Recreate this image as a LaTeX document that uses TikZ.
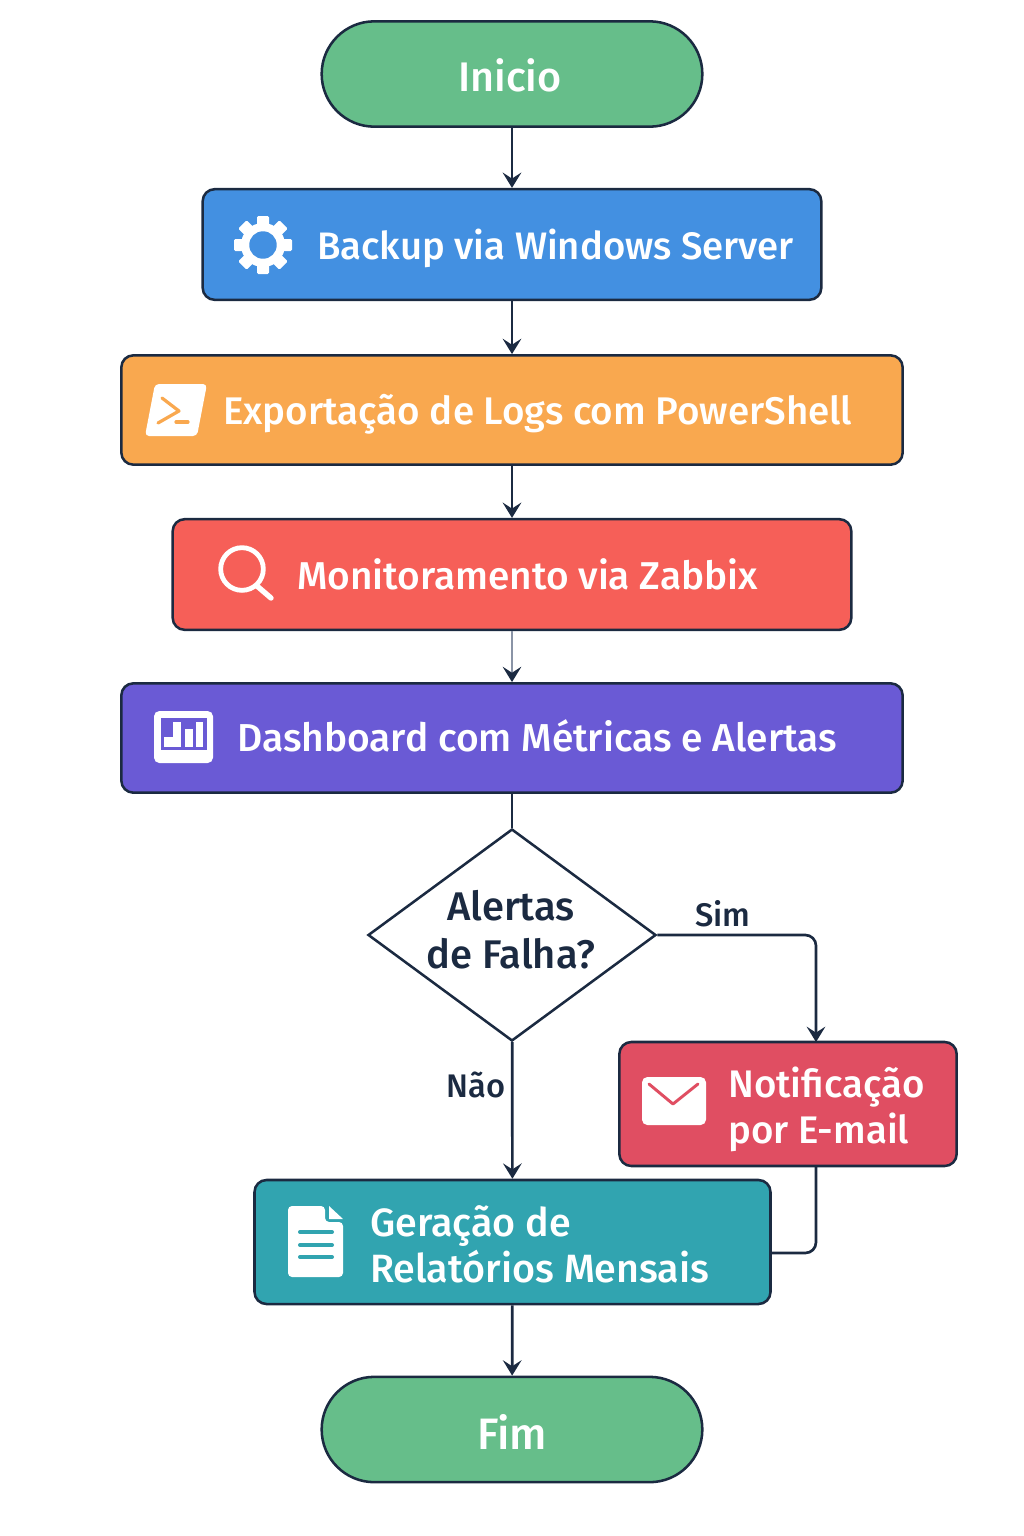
\documentclass[tikz,border=0pt]{standalone}
\usepackage{fontspec}
\setmainfont{Fira Sans Medium}
\usetikzlibrary{shapes.geometric, positioning, arrows.meta}
\definecolor{ink}{HTML}{1B2A41}
\definecolor{termgreen}{HTML}{66BE8A}
\definecolor{backupblue}{HTML}{4390E1}
\definecolor{logorange}{HTML}{F9A84F}
\definecolor{monitorred}{HTML}{F65F58}
\definecolor{dashpurple}{HTML}{6A5AD5}
\definecolor{mailred}{HTML}{E04E62}
\definecolor{reportteal}{HTML}{31A4B0}
\definecolor{paleink}{HTML}{8A94A6}
\tikzset{
    flow/.style = {draw = ink, line width = 2pt},
    arrow/.style = {flow, -{Stealth[length = 11.5pt, width = 14pt, inset = 4.5pt]}},
    box/.style = {draw = ink, line width = 1.9pt, rounded corners = 9pt, inner sep = 0pt},
    terminal/.style = {box, fill = termgreen, rounded corners = 39.5pt, minimum width = 285.5pt, minimum height = 79pt},
    title/.style = {text = white, inner sep = 0pt, font = \fontsize{#1}{34.5}\selectfont},
    title/.default = 29,
    tag/.style = {text = ink, inner sep = 0pt, font = \fontsize{24.5}{30}\selectfont},
    icon/.style = {fill = white, draw = none},
}
\begin{document}
\begin{tikzpicture}[x = 0.75pt, y = -0.75pt]
    \useasboundingbox (0, 0) rectangle (1024, 1536);

    \node[terminal] (start) at (512, 74) {};
    \node[box, fill = backupblue, minimum width = 464pt, minimum height = 83pt] (backup) at (512, 244.5) {};
    \node[box, fill = logorange, minimum width = 586pt, minimum height = 82pt] (logs) at (512, 410) {};
    \node[box, fill = monitorred, minimum width = 509pt, minimum height = 83pt] (monitor) at (512, 574.5) {};
    \node[box, fill = dashpurple, minimum width = 586pt, minimum height = 82pt] (dash) at (512, 738) {};
    \node[diamond, draw = ink, line width = 1.9pt, fill = white, inner sep = 0pt, minimum width = 216pt, minimum height = 159pt] (decision) at (512, 935) {};
    \node[box, fill = mailred, minimum width = 253pt, minimum height = 93pt] (mail) at (788, 1104) {};
    \node[box, fill = reportteal, minimum width = 387pt, minimum height = 93pt] (report) at (512.5, 1242) {};
    \node[terminal] (end) at (512, 1429.5) {};

    \node[title = 31] (start text) at (510, 75.5) {Inicio};
    \node[title = 28.7, anchor = west] (backup text) at (317, 248) {Backup via Windows Server};
    \node[title = 28.9, anchor = west] (logs text) at (223, 414) {Exportação de Logs com PowerShell};
    \node[title = 29.1, anchor = west] (monitor text) at (297, 574) {Monitoramento via Zabbix};
    \node[title = 29.2, anchor = west] (dash text) at (237, 736) {Dashboard com Métricas e Alertas};
    \node[title = 30, text = ink, align = center] (decision text) at (511, 930) {Alertas\\[1.5pt]de Falha?};
    \node[title = 28.8, anchor = west, align = left] (mail text) at (728, 1109) {Notificação\\por E-mail};
    \node[title = 29.6, anchor = west, align = left] (report text) at (370, 1244) {Geração de\\Relatórios Mensais};
    \node[title = 33] (end text) at (512, 1431.5) {Fim};
    \node[tag] (yes) at (723, 913.5) {Sim};
    \node[tag] (no) at (476, 1084.5) {Não};

    \coordinate (mail top) at (816, 1042);
    \coordinate (mail bottom) at (816, 1166);
    \coordinate (report side) at (771, 1253);

    \draw[arrow] (start) -- (backup);
    \draw[arrow] (backup) -- (logs);
    \draw[arrow] (logs) -- (monitor);
    \draw[draw = paleink, line width = 1.3pt, -{Stealth[length = 11.5pt, width = 14pt, inset = 4.5pt, color = ink]}] (monitor) -- (dash);
    \draw[flow] (dash) -- (decision);
    \draw[arrow] (decision) -- (report);
    \draw[arrow, rounded corners = 8pt] (decision.east) -| (mail top);
    \draw[flow, rounded corners = 8pt] (mail bottom) |- (report side);
    \draw[arrow] (report) -- (end);

    \foreach \a in {0, 45, ..., 315} {
        \fill[icon, rotate around = {\a:(263, 245)}, rounded corners = 1pt] (257, 216) rectangle (269, 232);
    }
    \fill[icon] (263, 245) circle (16.5pt);
    \fill[backupblue] (263, 245) circle (10.3pt);

    \fill[icon, rounded corners = 3pt] (155, 384) -- (207, 384) -- (197, 436) -- (145, 436) -- cycle;
    \draw[logorange, line width = 2.4pt, line cap = round, line join = round] (162, 398) -- (179, 411) -- (158, 423);
    \draw[logorange, line width = 2.4pt, line cap = round] (176, 422) -- (188, 422);

    \draw[white, line width = 3.6pt] (242, 569) circle (16pt);
    \draw[white, line width = 4pt, line cap = round] (257, 586) -- (271, 598);

    \fill[icon, rounded corners = 4pt] (154, 711) rectangle (213, 763);
    \fill[dashpurple] (161, 718) rectangle (207, 750);
    \fill[icon] (164, 737) rectangle (181, 747);
    \fill[icon] (173, 722) rectangle (181, 747);
    \fill[icon] (185, 729) rectangle (193, 747);
    \fill[icon] (196, 722) rectangle (203, 747);

    \fill[icon, rounded corners = 4pt] (642, 1077) rectangle (706, 1125);
    \draw[mailred, line width = 2.2pt, line cap = round, line join = round] (649, 1084) -- (673, 1104) -- (698, 1084);

    \fill[icon, rounded corners = 3pt] (288, 1206) -- (325, 1206) -- (325, 1222) -- (343, 1222) -- (343, 1277) -- (288, 1277) -- cycle;
    \fill[icon] (329, 1206) -- (343, 1219) -- (329, 1219) -- cycle;
    \foreach \y in {1232, 1245, 1257} {
        \draw[reportteal, line width = 3pt, line cap = round] (300, \y) -- (332, \y);
    }
\end{tikzpicture}
\end{document}
